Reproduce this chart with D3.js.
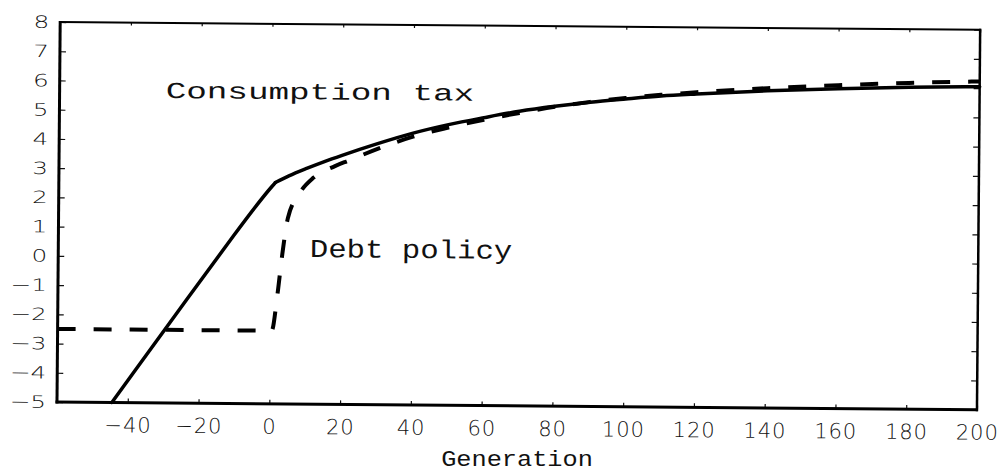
<!DOCTYPE html>
<html>
<head>
<meta charset="utf-8">
<script src="https://cdn.jsdelivr.net/npm/d3@7/dist/d3.min.js"></script>
<style>
  html, body { margin: 0; padding: 0; background: #fff; }
  svg { display: block; }
</style>
</head>
<body>
<svg id="chart" width="1004" height="473"></svg>
<script>
// ---- data ----
// Consumption tax: straight rise up to the kink, then a concave curve
const consumptionGen = [-44.5, -5, 1.2, 5, 10, 15, 20, 30, 40, 50, 60, 70, 80, 90, 100, 110, 120, 140, 160, 180, 200];
const consumptionVal = [-5, 1.7, 2.57, 2.8, 3.06, 3.3, 3.52, 3.93, 4.3, 4.6, 4.85, 5.08, 5.26, 5.41, 5.53, 5.64, 5.72, 5.85, 5.94, 6.01, 6.05];
const consumptionKink = 2; // index of the kink point

const debtGen = [-60, -20, 0.5, 2, 3.2, 4.8, 8, 12, 18, 22, 30, 40, 50, 60, 70, 80, 90, 100, 110, 120, 140, 160, 180, 200];
const debtVal = [-2.5, -2.5, -2.5, -1.3, 0, 1.35, 2.2, 2.75, 3.15, 3.35, 3.75, 4.18, 4.5, 4.78, 5.02, 5.24, 5.42, 5.56, 5.68, 5.78, 5.94, 6.06, 6.16, 6.23];

const xTicks = [-40, -20, 0, 20, 40, 60, 80, 100, 120, 140, 160, 180, 200];
const yTicks = [-5, -4, -3, -2, -1, 0, 1, 2, 3, 4, 5, 6, 7, 8];
const xDomain = [-60, 200];
const yDomain = [-5, 8];

const seriesLabels = ["Consumption tax", "Debt policy"];
const xTitle = "Generation";

// ---- layout ----
const L = 57, R = 977, T = 22, B = 402;
const svg = d3.select("#chart");
const root = svg.append("g").attr("transform", `rotate(0.48, ${L}, ${B})`);

const x = d3.scaleLinear().domain(xDomain).range([L, R]);
const y = d3.scaleLinear().domain(yDomain).range([B, T]);

const fmt = d => (d < 0 ? "\u2212" + Math.abs(d) : String(d));

// bottom axis (ticks inward + labels)
const gx = root.append("g").attr("transform", `translate(0,${B})`)
  .call(d3.axisBottom(x).tickValues(xTicks).tickSize(-4).tickPadding(15).tickFormat(fmt));
gx.select(".domain").remove();
gx.selectAll("line").attr("stroke", "#111").attr("stroke-width", 1.2);
gx.selectAll("text")
  .attr("font-family", "'DejaVu Sans', sans-serif")
  .attr("font-weight", 300)
  .attr("font-size", 21)
  .attr("fill", "#111")
  .attr("letter-spacing", 1);

// top axis ticks
const gt = root.append("g").attr("transform", `translate(0,${T})`)
  .call(d3.axisTop(x).tickValues(xTicks).tickSize(-3).tickFormat(""));
gt.select(".domain").remove();
gt.selectAll("line").attr("stroke", "#111").attr("stroke-width", 1.2);

// left axis
const gy = root.append("g").attr("transform", `translate(${L},0)`)
  .call(d3.axisLeft(y).tickValues(yTicks).tickSize(-6).tickPadding(0).tickFormat(fmt));
gy.select(".domain").remove();
gy.selectAll("line").attr("stroke", "#111").attr("stroke-width", 1.2);
gy.selectAll("text")
  .attr("x", 0)
  .attr("transform", "translate(-11,0) scale(1.45,1)")
  .attr("font-family", "'DejaVu Sans', sans-serif")
  .attr("font-weight", 300)
  .attr("font-size", 17)
  .attr("fill", "#111");

// right axis ticks
const gr = root.append("g").attr("transform", `translate(${R},0)`)
  .call(d3.axisRight(y).tickValues(yTicks).tickSize(-6).tickFormat(""));
gr.select(".domain").remove();
gr.selectAll("line").attr("stroke", "#111").attr("stroke-width", 1.2);

// frame
root.append("line").attr("x1", L).attr("x2", L).attr("y1", T - 1).attr("y2", B + 1.5)
  .attr("stroke", "#000").attr("stroke-width", 3);
root.append("line").attr("x1", L - 1.5).attr("x2", R + 1).attr("y1", B).attr("y2", B)
  .attr("stroke", "#000").attr("stroke-width", 3);
root.append("line").attr("x1", L).attr("x2", R + 1).attr("y1", T).attr("y2", T)
  .attr("stroke", "#000").attr("stroke-width", 2);
root.append("line").attr("x1", R).attr("x2", R).attr("y1", T - 1).attr("y2", B + 1.5)
  .attr("stroke", "#000").attr("stroke-width", 2.5);

// curves
const smooth = d3.line().x(d => x(d[0])).y(d => y(d[1])).curve(d3.curveMonotoneX);
const straight = d3.line().x(d => x(d[0])).y(d => y(d[1])).curve(d3.curveBasis);
const consData = consumptionGen.map((g, i) => [g, consumptionVal[i]]);
const debtData = debtGen.map((g, i) => [g, debtVal[i]]);

root.append("path").datum(debtData)
  .attr("d", smooth).attr("fill", "none").attr("stroke", "#000")
  .attr("stroke-width", 4).attr("stroke-dasharray", "18,18");

// solid series: the straight rise (slightly rounded into the kink) and the curve after it
root.append("path").datum(consData.slice(0, consumptionKink + 1))
  .attr("d", straight).attr("fill", "none").attr("stroke", "#000")
  .attr("stroke-width", 3.5).attr("stroke-linecap", "round");
root.append("path").datum(consData.slice(consumptionKink))
  .attr("d", smooth).attr("fill", "none").attr("stroke", "#000")
  .attr("stroke-width", 3.5).attr("stroke-linecap", "round").attr("stroke-linejoin", "round");

// annotations
const mono = "'Liberation Mono', 'DejaVu Sans Mono', monospace";
root.append("text")
  .attr("transform", `translate(${x(-30)},${y(5.43)}) scale(1.49,1)`)
  .attr("font-family", mono).attr("font-size", 23).attr("fill", "#111")
  .text(seriesLabels[0]);
root.append("text")
  .attr("transform", `translate(${x(11.1)},${y(0.03)}) scale(1.18,1)`)
  .attr("font-family", mono).attr("font-size", 26).attr("fill", "#111")
  .text(seriesLabels[1]);
svg.append("text")
  .attr("transform", `translate(${(L + R) / 2},466) scale(1.15,1)`)
  .attr("text-anchor", "middle")
  .attr("font-family", mono).attr("font-size", 22).attr("fill", "#111")
  .text(xTitle);
</script>
</body>
</html>
